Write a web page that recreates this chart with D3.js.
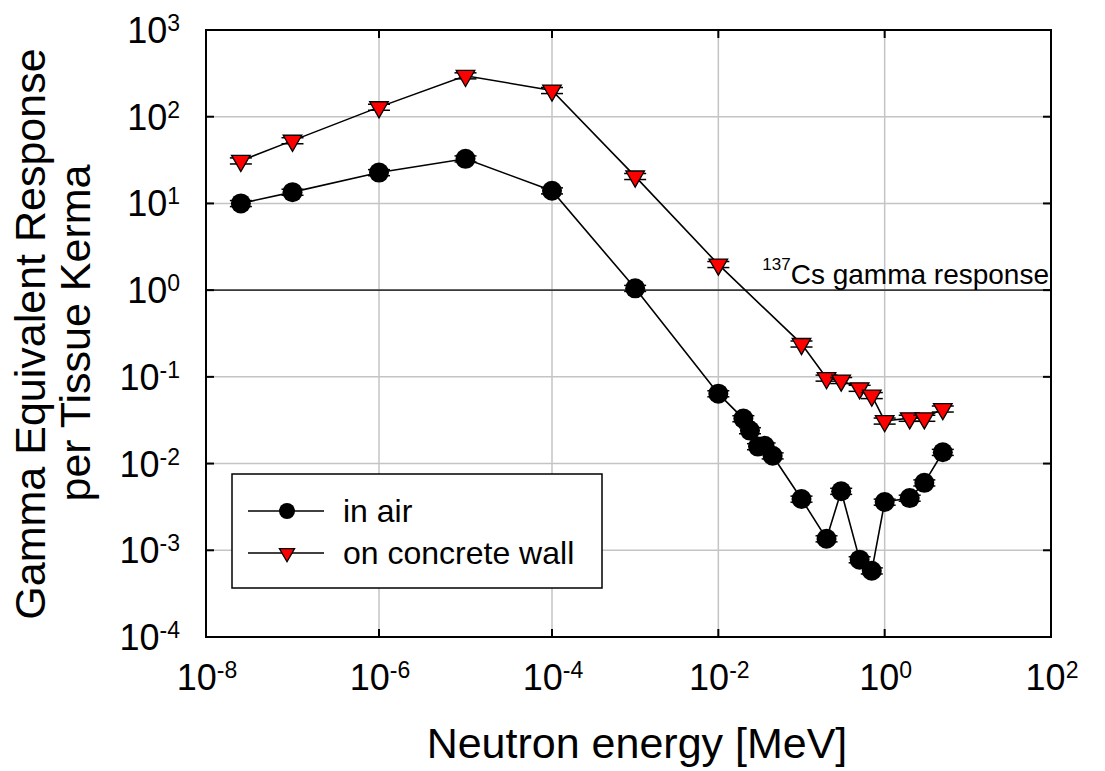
<!DOCTYPE html>
<html>
<head>
<meta charset="utf-8">
<script src="https://cdn.jsdelivr.net/npm/d3@7"></script>
<style>
  body { margin: 0; background: #fff; }
  text { font-family: "Liberation Sans", Arial, sans-serif; fill: #000; }
</style>
</head>
<body>
<script>
// data (MeV, response per tissue kerma)
var energyAir = [2.53e-8, 1e-7, 1e-6, 1e-5, 1e-4, 1e-3, 1e-2, 0.02, 0.024, 0.03, 0.036, 0.045, 0.1, 0.2, 0.3, 0.5, 0.7, 1, 2, 3, 5];
var responseAir = [10.0, 13.5, 22.7, 32.7, 14.0, 1.05, 0.064, 0.033, 0.024, 0.0157, 0.016, 0.0123, 0.0039, 0.00136, 0.0048, 0.00078, 0.00058, 0.0036, 0.0040, 0.0060, 0.0135];
var energyWall = [2.53e-8, 1e-7, 1e-6, 1e-5, 1e-4, 1e-3, 1e-2, 0.1, 0.2, 0.3, 0.5, 0.7, 1, 2, 3, 5];
var responseWall = [31, 53, 129, 297, 201, 20.5, 1.98, 0.24, 0.097, 0.091, 0.074, 0.061, 0.031, 0.0334, 0.0334, 0.0427];
var relErr = 0.08;

var xTickExp = [-8, -6, -4, -2, 0, 2];
var yTickExp = [3, 2, 1, 0, -1, -2, -3, -4];
var cs137 = 1;
var seriesNames = ["in air", "on concrete wall"];

var width = 1105, height = 771;
var plotL = 206, plotR = 1051, plotT = 30, plotB = 637;

var svg = d3.select("body").append("svg")
	.attr("width", width)
	.attr("height", height);

// the scanned axis is a bit uneven, so break it at 1e-4
var x = d3.scaleLog()
	.domain([1e-8, 1e-4, 1e2])
	.range([plotL, 552, plotR]);
var y = d3.scaleLog()
	.domain([1e-4, 1e3])
	.range([plotB, plotT]);

var xTicks = xTickExp.map(function(e){ return Math.pow(10, e); });
var yTicks = yTickExp.map(function(e){ return Math.pow(10, e); });

// grid
var grid = svg.append("g").attr("stroke", "#c4c4c4").attr("stroke-width", 1.5);
grid.selectAll(".gx").data(xTicks.slice(1, -1)).enter().append("line")
	.attr("x1", function(d){ return x(d); }).attr("x2", function(d){ return x(d); })
	.attr("y1", plotT).attr("y2", plotB);
grid.selectAll(".gy").data(yTicks.slice(1, -1)).enter().append("line")
	.attr("x1", plotL).attr("x2", plotR)
	.attr("y1", function(d){ return y(d); }).attr("y2", function(d){ return y(d); });

// 137Cs reference line
svg.append("line")
	.attr("x1", plotL).attr("x2", plotR)
	.attr("y1", y(cs137)).attr("y2", y(cs137))
	.attr("stroke", "#3a3a3a").attr("stroke-width", 1.8);

var csLabel = svg.append("text")
	.attr("x", plotR - 2).attr("y", y(cs137) - 6)
	.attr("text-anchor", "end")
	.style("font-size", "28px");
csLabel.append("tspan").attr("dy", -14).style("font-size", "17px").text("137");
csLabel.append("tspan").attr("dy", 14).text("Cs gamma response");

// ticks (inward, all sides)
var tk = svg.append("g").attr("stroke", "#000").attr("stroke-width", 2);
xTicks.forEach(function(d){
	tk.append("line").attr("x1", x(d)).attr("x2", x(d)).attr("y1", plotB).attr("y2", plotB - 8);
	tk.append("line").attr("x1", x(d)).attr("x2", x(d)).attr("y1", plotT).attr("y2", plotT + 8);
});
yTicks.forEach(function(d){
	tk.append("line").attr("x1", plotL).attr("x2", plotL + 8).attr("y1", y(d)).attr("y2", y(d));
	tk.append("line").attr("x1", plotR).attr("x2", plotR - 8).attr("y1", y(d)).attr("y2", y(d));
});

// tick labels
function powLabel(sel, e){
	sel.append("tspan").text("10");
	sel.append("tspan").attr("dy", -12).style("font-size", "23px").text(e);
}
xTickExp.forEach(function(e){
	var t = svg.append("text")
		.attr("x", x(Math.pow(10, e)) + 1).attr("y", 690)
		.attr("text-anchor", "middle")
		.style("font-size", "36px");
	powLabel(t, e);
});
yTickExp.forEach(function(e){
	var t = svg.append("text")
		.attr("x", 180).attr("y", y(Math.pow(10, e)) + 13)
		.attr("text-anchor", "end")
		.style("font-size", "36px");
	powLabel(t, e);
});

// axis titles
svg.append("text")
	.attr("x", 637).attr("y", 758)
	.attr("text-anchor", "middle")
	.style("font-size", "43px")
	.text("Neutron energy [MeV]");
svg.append("text")
	.attr("transform", "translate(45,334) rotate(-90)")
	.attr("text-anchor", "middle")
	.style("font-size", "43px")
	.text("Gamma Equivalent Response");
svg.append("text")
	.attr("transform", "translate(90,333) rotate(-90)")
	.attr("text-anchor", "middle")
	.style("font-size", "43px")
	.text("per Tissue Kerma");

// frame
svg.append("rect")
	.attr("x", plotL).attr("y", plotT)
	.attr("width", plotR - plotL).attr("height", plotB - plotT)
	.attr("fill", "none").attr("stroke", "#000").attr("stroke-width", 2);

var tri = d3.symbol().type(d3.symbolTriangle).size(150);

function drawSeries(xs, ys, kind){
	var pts = xs.map(function(v, i){ return [v, ys[i]]; });
	var line = d3.line()
		.x(function(d){ return x(d[0]); })
		.y(function(d){ return y(d[1]); });
	svg.append("path")
		.datum(pts)
		.attr("d", line)
		.attr("fill", "none").attr("stroke", "#000").attr("stroke-width", 1.6);

	var g = svg.append("g");
	var pt = g.selectAll("g").data(pts).enter().append("g")
		.attr("transform", function(d){ return "translate(" + x(d[0]) + ",0)"; });
	// error bars
	pt.append("line")
		.attr("y1", function(d){ return y(d[1] * (1 + relErr)); })
		.attr("y2", function(d){ return y(d[1] * (1 - relErr)); })
		.attr("stroke", "#000").attr("stroke-width", 1.2);
	[1 + relErr, 1 - relErr].forEach(function(f){
		pt.append("line")
			.attr("x1", -11).attr("x2", 11)
			.attr("y1", function(d){ return y(d[1] * f); })
			.attr("y2", function(d){ return y(d[1] * f); })
			.attr("stroke", "#000").attr("stroke-width", 1.5);
	});
	if (kind === "circle") {
		pt.append("circle")
			.attr("cy", function(d){ return y(d[1]); })
			.attr("r", 10)
			.attr("fill", "#000");
	} else {
		pt.append("path")
			.attr("d", tri)
			.attr("transform", function(d){ return "translate(0," + y(d[1]) + ") rotate(180)"; })
			.attr("fill", "#ff0000").attr("stroke", "#000").attr("stroke-width", 1.3);
	}
}

drawSeries(energyAir, responseAir, "circle");
drawSeries(energyWall, responseWall, "triangle");

// legend
var lg = svg.append("g");
lg.append("rect")
	.attr("x", 232).attr("y", 474)
	.attr("width", 370).attr("height", 114)
	.attr("fill", "#fff").attr("stroke", "#000").attr("stroke-width", 1.5);
[511, 553].forEach(function(ly, i){
	lg.append("line")
		.attr("x1", 248).attr("x2", 324).attr("y1", ly).attr("y2", ly)
		.attr("stroke", "#000").attr("stroke-width", 1.6);
	if (i === 0) {
		lg.append("circle").attr("cx", 287).attr("cy", ly).attr("r", 8).attr("fill", "#000");
	} else {
		lg.append("path")
			.attr("d", d3.symbol().type(d3.symbolTriangle).size(100))
			.attr("transform", "translate(287," + ly + ") rotate(180)")
			.attr("fill", "#ff0000").attr("stroke", "#000").attr("stroke-width", 1.3);
	}
	lg.append("text")
		.attr("x", 343).attr("y", ly + 11)
		.style("font-size", "32px")
		.text(seriesNames[i]);
});
</script>
</body>
</html>
